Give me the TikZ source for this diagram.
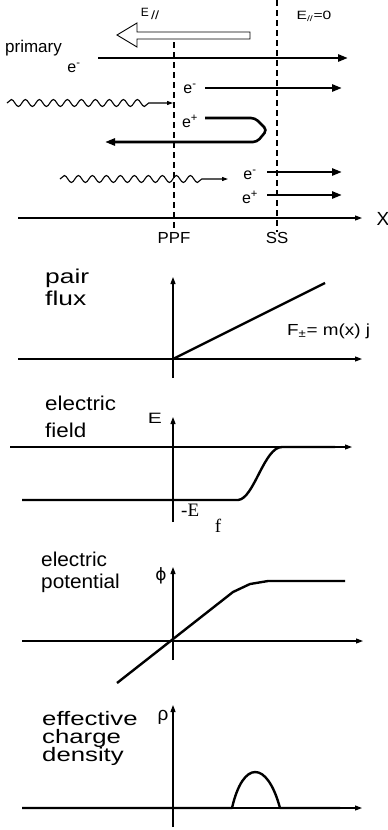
\documentclass[tikz,border=0pt]{standalone}
\usepackage{graphicx}
\usepackage{fontspec}
\setmainfont{Liberation Sans}
\newfontfamily\serifface{Liberation Serif}
\newfontfamily\greekface{DejaVu Sans}
\usetikzlibrary{arrows.meta,decorations.pathmorphing}
\newcommand{\hwide}[2]{\scalebox{#1}[1]{#2}}

\begin{document}
\begin{tikzpicture}[x=1pt,y=-1pt,
  axis/.style={line width=1.1pt,-{Triangle[length=7pt,width=5pt]}},
  curve/.style={line width=2.4pt,line join=round},
  beam/.style={line width=2.6pt,-{Triangle[length=10pt,width=7pt]}},
  bound/.style={line width=1.2pt,dash pattern=on 6pt off 4pt},
  photon/.style={line width=1.1pt,-{Triangle[length=6pt,width=4pt]},
    decorate,decoration={snake,segment length=14pt,amplitude=3.5pt,post length=20pt}},
  toplab/.style={font=\fontsize{16}{18}\selectfont,inner sep=0pt},
  small/.style={font=\fontsize{12}{14}\selectfont,inner sep=0pt},
  plotlab/.style={inner sep=0pt,anchor=base west,font=\fontsize{20}{22}\selectfont}]

  \useasboundingbox (0,0) rectangle (388,830);

  % boundaries PPF and SS
  \coordinate (ppftop) at (174,42);
  \coordinate (sstop) at (277,0);
  \node[toplab] (ppf) at (174,238) {\hwide{1.05}{PPF}};
  \node[toplab] (ss) at (277,238) {\hwide{1.05}{SS}};
  \draw[bound] (ppftop) -- (ppf.north);
  \draw[bound] (sstop) -- (ss.north);

  % parallel field
  \draw[line width=0.9pt] (117,35) -- (137,23) -- (137,32) -- (250,32) -- (250,39)
    -- (137,39) -- (137,47) -- cycle;
  \node[small] (epar) at (150,14) {E\,\raisebox{-0.5ex}{\hwide{1.2}{//}}};
  \node[small] (ezero) at (314,16) {\hwide{1.3}{E\textsubscript{//}=0}};

  % primary electron
  \node[font=\fontsize{17}{18}\selectfont,inner sep=0pt,anchor=base west] (prim) at (5,52) {primary};
  \node[toplab] (prime) at (74,68) {e\textsuperscript{-}};
  \coordinate (prim1) at (98,58);
  \coordinate (prim2) at (348,58);
  \draw[beam] (prim1) -- (prim2);

  % pair created beyond PPF
  \coordinate (ga1) at (7,103);
  \coordinate (ga2) at (173,103);
  \draw[photon] (ga1) -- (ga2);
  \node[toplab] (em1) at (190,89) {e\textsuperscript{-}};
  \node[toplab] (ep1) at (190,121) {e\textsuperscript{+}};
  \coordinate (em1a) at (205,88);
  \coordinate (em1b) at (342,88);
  \draw[beam] (em1a) -- (em1b);
  \coordinate (ep1a) at (205,118);
  \coordinate (ep1b) at (105,142);
  \draw[beam,rounded corners=4pt] (ep1a) -- (255,118) -- (267,130) -- (257,142) -- (ep1b);

  % pair created beyond SS
  \coordinate (ga3) at (60,179);
  \coordinate (ga4) at (228,179);
  \draw[photon,decoration={post length=25pt}] (ga3) -- (ga4);
  \node[toplab] (em2) at (250,175) {e\textsuperscript{-}};
  \node[toplab] (ep2) at (250,197) {e\textsuperscript{+}};
  \coordinate (em2a) at (267,172);
  \coordinate (em2b) at (342,172);
  \coordinate (ep2a) at (267,195);
  \coordinate (ep2b) at (342,195);
  \draw[beam] (em2a) -- (em2b);
  \draw[beam] (ep2a) -- (ep2b);

  % x axis
  \coordinate (xa) at (18,218);
  \coordinate (xb) at (362,218);
  \draw[axis] (xa) -- (xb);
  \node[font=\fontsize{19}{20}\selectfont,inner sep=0pt] (xlab) at (383,219) {X};

  % pair flux
  \node[plotlab] (pair) at (45,283) {\hwide{1.32}{pair}};
  \node[plotlab] (flux) at (45,305) {\hwide{1.32}{flux}};
  \coordinate (fo) at (173,359);
  \draw[axis] (18,359) -- (362,359);
  \draw[axis] (173,378) -- (173,277);
  \draw[curve] (fo) -- (325,283);
  \node[font=\fontsize{16}{18}\selectfont,inner sep=0pt,anchor=base west] (flab) at (287,335)
    {\hwide{1.18}{F\textsubscript{±}= m(x) j}};

  % electric field
  \node[plotlab] (elec1) at (45,410) {\hwide{1.12}{electric}};
  \node[plotlab] (field) at (45,437) {\hwide{1.12}{field}};
  \draw[axis] (10,447) -- (352,447);
  \draw[axis] (173,522) -- (173,417);
  \node[font=\fontsize{15}{16}\selectfont,inner sep=0pt] (elab) at (155,418) {\hwide{1.4}{E}};
  \draw[curve] (22,500) -- (238,500) .. controls (254,499) and (264,447) .. (282,447) -- (335,447);
  \node[font=\serifface\fontsize{19}{20}\selectfont,inner sep=0pt,anchor=west] (eflab) at (181,510) {-E};
  \node[font=\serifface\fontsize{19}{20}\selectfont,inner sep=0pt] (fsub) at (218,526) {f};

  % electric potential
  \node[plotlab] (elec2) at (41,566) {\hwide{1.04}{electric}};
  \node[plotlab] (pot) at (41,588) {\hwide{1.04}{potential}};
  \draw[axis] (22,641) -- (363,641);
  \draw[axis] (173,660) -- (173,567);
  \node[font=\greekface\fontsize{17}{18}\selectfont,inner sep=0pt] (philab) at (161,576) {ϕ};
  \draw[curve] (117,683) -- (233,592) -- (250,584) -- (268,581) -- (345,581);

  % effective charge density
  \node[plotlab,font=\fontsize{19.5}{20}\selectfont] (eff) at (42,725) {\hwide{1.32}{effective}};
  \node[plotlab,font=\fontsize{19.5}{20}\selectfont] (charge) at (42,743) {\hwide{1.32}{charge}};
  \node[plotlab,font=\fontsize{19.5}{20}\selectfont] (dens) at (42,761) {\hwide{1.32}{density}};
  \draw[axis] (22,808) -- (362,808);
  \draw[axis] (173,827) -- (173,705);
  \node[font=\fontsize{19}{20}\selectfont,inner sep=0pt] (rholab) at (163,717) {ρ};
  \draw[curve] (22,808) -- (232,808) .. controls (243,760) and (267,760) .. (280,808) -- (340,808);

\end{tikzpicture}
\end{document}
